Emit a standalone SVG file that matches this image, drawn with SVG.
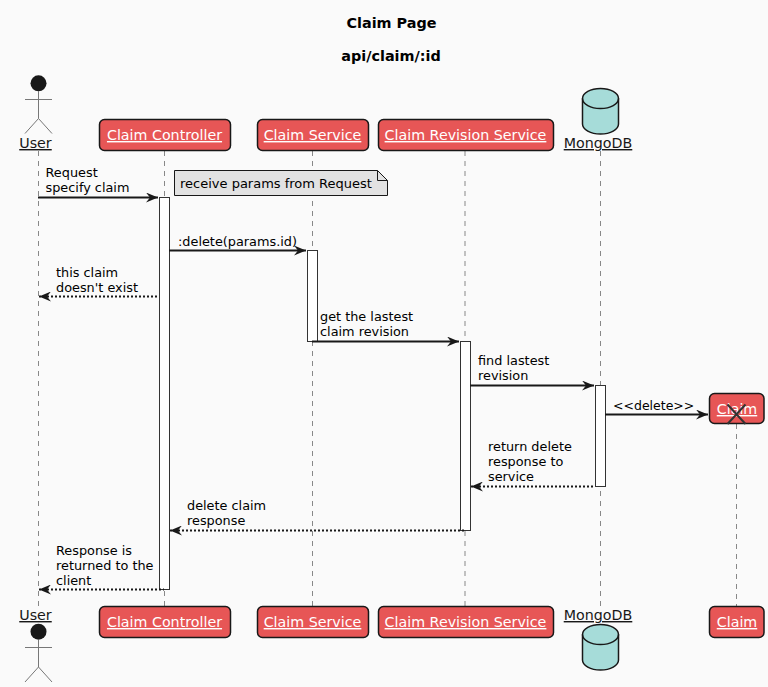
<svg xmlns="http://www.w3.org/2000/svg" width="768" height="687" viewBox="0 0 768 687">
<style>
text{font-family:"DejaVu Sans",sans-serif;font-size:12.85px;fill:#000}
.t{font-weight:bold;font-size:14.4px;text-anchor:middle}
.n{font-size:13px}
.s{font-size:12.5px}
.p{font-size:14.25px;text-anchor:middle;text-decoration:underline}
.w{fill:#fff}
.d{fill:#181818}
.box{fill:#e75656;stroke:#181818;stroke-width:1.5}
.life{stroke:#888;stroke-width:1;stroke-dasharray:5 5;fill:none}
.act{fill:#fff;stroke:#333;stroke-width:1}
.m{stroke:#181818;stroke-width:2;fill:none}
.r{stroke-dasharray:2 2}
.cyl{fill:#a6dcd9;stroke:#181818;stroke-width:1.5}
.stick{fill:none;stroke:#777;stroke-width:1}
</style>
<defs>
<marker id="a" markerUnits="userSpaceOnUse" markerWidth="13" markerHeight="10" refX="12" refY="5" orient="auto"><path d="M0 0L12 5L0 10L4 5Z" fill="#181818"/></marker>
<marker id="b" markerUnits="userSpaceOnUse" markerWidth="13" markerHeight="10" refX="1" refY="5" orient="auto"><path d="M13 0L1 5L13 10L9 5Z" fill="#181818"/></marker>
</defs>
<rect width="768" height="687" fill="#fafafa"/>
<text class="t" x="391.500" y="28">Claim Page</text>
<text class="t" x="391" y="61">api/claim/:id</text>
<g id="lifelines">
<path class="life" d="M38.500 151V606M164.500 151V606M312.500 151V606M465 151V606M600.500 151V606M736.500 424V606"/>
</g>
<g id="activations">
<rect class="act" x="159.500" y="197.500" width="10" height="392"/>
<rect class="act" x="307.500" y="250.500" width="10" height="91"/>
<rect class="act" x="460.500" y="341.500" width="10" height="189"/>
<rect class="act" x="595.500" y="385.500" width="10" height="101"/>
</g>
<g id="note-receive">
<path d="M174.500 170.500H377.500L387.500 180.500V195.500H174.500Z" fill="#e2e2e2" stroke="#181818" stroke-width="1"/>
<path d="M377.500 170.500V180.500H387.500" fill="none" stroke="#181818" stroke-width="1"/>
<text class="n" x="180" y="188">receive params from Request</text>
</g>
<g id="connectors">
<path class="m" marker-end="url(#a)" d="M38 197.500H158"/>
<path class="m" marker-end="url(#a)" d="M169 250.500H306"/>
<path class="m r" marker-start="url(#b)" d="M39 296.500H159"/>
<path class="m" marker-end="url(#a)" d="M312 341.500H459"/>
<path class="m" marker-end="url(#a)" d="M470 385.500H594"/>
<path class="m" marker-end="url(#a)" d="M605 414.500H708"/>
<path class="m r" marker-start="url(#b)" d="M471 486.500H595"/>
<path class="m r" marker-start="url(#b)" d="M170 530.500H465"/>
<path class="m r" marker-start="url(#b)" d="M39 589.500H164"/>
</g>
<g id="labels">
<text x="45.500" y="177">Request</text><text x="45.500" y="192">specify claim</text>
<text x="178" y="246">:delete(params.id)</text>
<text x="56" y="277">this claim</text><text x="56" y="292">doesn't exist</text>
<text x="320" y="321">get the lastest</text><text x="320" y="336">claim revision</text>
<text x="478" y="365">find lastest</text><text x="478" y="380">revision</text>
<text class="s" x="613" y="410">&lt;&lt;delete&gt;&gt;</text>
<text x="488" y="451">return delete</text><text x="488" y="466">response to</text><text x="488" y="481">service</text>
<text x="187" y="510">delete claim</text><text x="187" y="525">response</text>
<text x="56" y="555">Response is</text><text x="56" y="570">returned to the</text><text x="56" y="585">client</text>
</g>
<g id="user-top">
<circle class="d" cx="38.500" cy="83.300" r="8"/>
<path class="stick" d="M38.500 91V118.500M25 99.500H52M38.500 118.500L25 133.500M38.500 118.500L52 133.500"/>
<text class="p d" x="35.500" y="148">User</text>
</g>
<g id="controller-top"><rect class="box" x="99.500" y="119.500" width="131" height="31" rx="5"/><text class="p w" x="164.500" y="140">Claim Controller</text></g>
<g id="service-top"><rect class="box" x="257.500" y="119.500" width="111" height="31" rx="5"/><text class="p w" x="312.500" y="140">Claim Service</text></g>
<g id="revision-top"><rect class="box" x="378.500" y="119.500" width="175" height="31" rx="5"/><text class="p w" x="465.500" y="140">Claim Revision Service</text></g>
<g id="mongodb-top">
<path class="cyl" d="M582.500 98.500A18 10 0 0 1 618.500 98.500V124A18 10 0 0 1 582.500 124Z"/>
<path class="cyl" style="fill:none" d="M582.500 98.500A18 10 0 0 0 618.500 98.500"/>
<text class="p d" x="598" y="148">MongoDB</text>
</g>
<g id="claim-created">
<rect class="box" x="709.500" y="393.500" width="54.500" height="30" rx="5"/>
<text class="p w" x="737" y="414">Claim</text>
<path d="M727.500 404.500L745.500 424M745.500 404.500L727.500 424" stroke="#333" stroke-width="2" fill="none"/>
</g>
<g id="user-bottom">
<text class="p d" x="35.500" y="620">User</text>
<circle class="d" cx="38.500" cy="631.700" r="8"/>
<path class="stick" d="M38.500 640V667M25 647.500H52M38.500 667L25 682M38.500 667L52 682"/>
</g>
<g id="controller-bottom"><rect class="box" x="99.500" y="606.500" width="131" height="31" rx="5"/><text class="p w" x="164.500" y="627">Claim Controller</text></g>
<g id="service-bottom"><rect class="box" x="257.500" y="606.500" width="111" height="31" rx="5"/><text class="p w" x="312.500" y="627">Claim Service</text></g>
<g id="revision-bottom"><rect class="box" x="378.500" y="606.500" width="175" height="31" rx="5"/><text class="p w" x="465.500" y="627">Claim Revision Service</text></g>
<g id="mongodb-bottom">
<text class="p d" x="598" y="620">MongoDB</text>
<path class="cyl" d="M582.500 634.500A18 10 0 0 1 618.500 634.500V660A18 10 0 0 1 582.500 660Z"/>
<path class="cyl" style="fill:none" d="M582.500 634.500A18 10 0 0 0 618.500 634.500"/>
</g>
<g id="claim-bottom"><rect class="box" x="709.500" y="606.500" width="54.500" height="31" rx="5"/><text class="p w" x="737" y="627">Claim</text></g>
</svg>
